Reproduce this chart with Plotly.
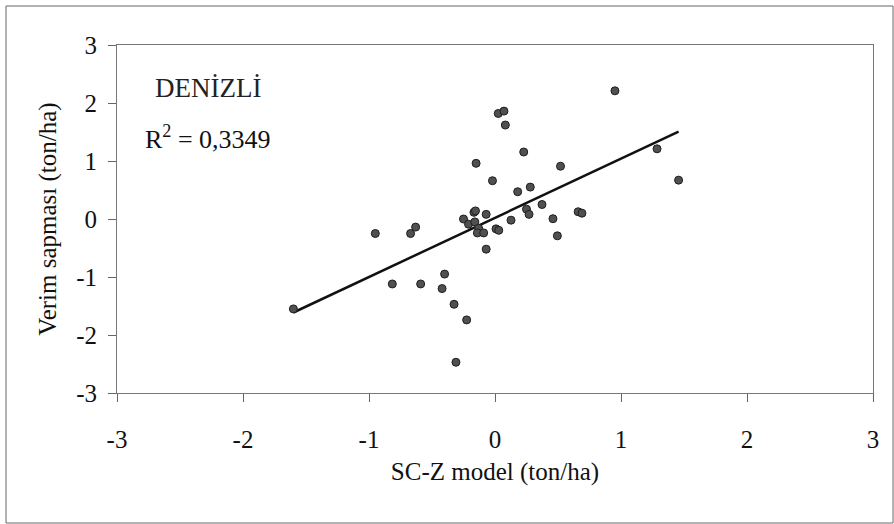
import plotly.graph_objects as go

# Data
sc_z_model = [-1.60, -0.95, -0.67, -0.63, -0.815, -0.59, -0.40, -0.42, -0.325, -0.225,
              -0.31, 0.026, 0.071, 0.082, 0.228, -0.15, -0.02, 0.18, 0.28, 0.52,
              0.373, 0.25, 0.27, 0.46, 0.495, 0.127, -0.07, 0.008, 0.03, -0.07,
              -0.25, -0.167, -0.155, -0.21, -0.16, -0.13, -0.14, -0.09, 0.952, 1.286,
              1.457, 0.66, 0.69]
verim_sapmasi = [-1.55, -0.25, -0.25, -0.14, -1.12, -1.12, -0.95, -1.20, -1.47, -1.74,
                 -2.47, 1.82, 1.86, 1.62, 1.155, 0.96, 0.66, 0.47, 0.55, 0.91,
                 0.25, 0.17, 0.08, 0.005, -0.29, -0.02, 0.08, -0.17, -0.195, -0.52,
                 0.0, 0.115, 0.14, -0.09, -0.05, -0.16, -0.24, -0.24, 2.21, 1.21,
                 0.67, 0.125, 0.10]
trend_slope = 1.02
trend_intercept = 0.02
tick_vals = [-3, -2, -1, 0, 1, 2, 3]
tick_text = ["-3", "-2", "-1", "0", "1", "2", "3"]
region_label = "DENİZLİ"
r2_label = "R<sup>2</sup> = 0,3349"

x_min, x_max = min(sc_z_model), max(sc_z_model)
trend_x = [x_min, x_max]
trend_y = [trend_slope * v + trend_intercept for v in trend_x]

FONT = "Liberation Serif, Times New Roman, serif"

fig = go.Figure()
fig.add_trace(go.Scatter(
    x=trend_x, y=trend_y, mode="lines",
    line=dict(color="#111111", width=2.5), showlegend=False, hoverinfo="skip"))
fig.add_trace(go.Scatter(
    x=sc_z_model, y=verim_sapmasi, mode="markers",
    marker=dict(size=8, color="#505050", line=dict(color="#1e1e1e", width=1)),
    showlegend=False))

axis_common = dict(
    showgrid=False, zeroline=False, showline=True, mirror=True,
    linecolor="#777777", linewidth=1, ticks="outside", ticklen=8,
    tickcolor="#666666", tickwidth=1, tickvals=tick_vals, ticktext=tick_text,
    tickfont=dict(family=FONT, size=25, color="#111111"), automargin=False,
)

fig.update_layout(
    width=894, height=524,
    margin=dict(l=117, r=21, t=45, b=131),
    paper_bgcolor="white", plot_bgcolor="white",
    xaxis=dict(range=[-3, 3], **axis_common,
               ticklabelstandoff=16,
               title=dict(text="SC-Z model (ton/ha)", standoff=10,
                          font=dict(family=FONT, size=25, color="#111111"))),
    yaxis=dict(range=[-3, 3], **axis_common,
               ticklabelstandoff=6,
               title=dict(text="Verim sapması (ton/ha)", standoff=12,
                          font=dict(family=FONT, size=25, color="#111111"))),
    annotations=[
        dict(x=0.0476, y=0.876, xref="paper", yref="paper", text=region_label,
             showarrow=False, xanchor="left", yanchor="middle",
             font=dict(family=FONT, size=27, color="#222222")),
        dict(x=0.0344, y=0.733, xref="paper", yref="paper", text=r2_label,
             showarrow=False, xanchor="left", yanchor="middle",
             font=dict(family=FONT, size=26, color="#111111")),
    ],
    shapes=[
        dict(type="rect", xref="paper", yref="paper",
             x0=-0.1468, x1=1.0265, y0=-0.3736, y1=1.112,
             line=dict(color="#666666", width=1), fillcolor="rgba(0,0,0,0)",
             layer="below"),
    ],
)

fig.write_html("out.html", config={"displayModeBar": False},
               post_script="document.body.style.margin='0';")
